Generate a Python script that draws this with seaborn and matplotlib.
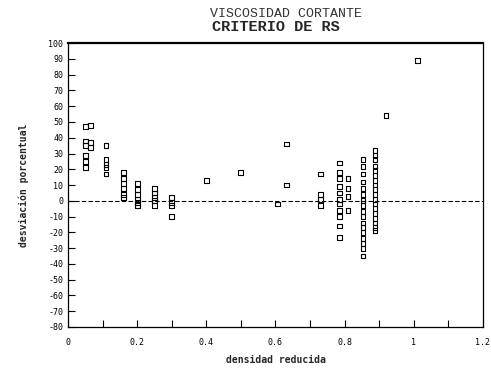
import matplotlib
matplotlib.use("Agg")
import matplotlib.pyplot as plt
import seaborn as sns
import pandas as pd
import numpy as np

# ---- data ----
dens_005 = [0.05] * 6
dev_005 = [47, 38, 35, 29, 25, 21]
dens_006 = [0.065] * 3
dev_006 = [48, 37, 34]
dens_011 = [0.11] * 5
dev_011 = [35, 26, 23, 21, 17]
dens_016 = [0.16] * 6
dev_016 = [18, 14, 11, 8, 4, 2]
dens_020 = [0.20] * 6
dev_020 = [11, 7, 4, 1, -1, -3]
dens_025 = [0.25] * 5
dev_025 = [8, 5, 2, 0, -3]
dens_030 = [0.30] * 4
dev_030 = [2, -1, -3, -10]
dens_mid = [0.40, 0.50, 0.605, 0.633, 0.633]
dev_mid = [13, 18, -2, 36, 10]
dens_073 = [0.73] * 4
dev_073 = [17, 4, 1, -3]
dens_078 = [0.785] * 11
dev_078 = [24, 18, 14, 9, 5, 1, -2, -6, -10, -16, -23]
dens_081 = [0.81] * 4
dev_081 = [14, 8, 3, -6]
dens_085 = [0.853] * 17
dev_085 = [26, 22, 17, 12, 8, 4, 0, -3, -7, -10, -14, -17, -20, -24, -27, -30, -35]
dens_089 = [0.888] * 18
dev_089 = [32, 29, 26, 22, 19, 16, 13, 10, 7, 4, 1, -2, -5, -8, -11, -14, -17, -19]
dens_high = [0.92, 1.01]
dev_high = [54, 89]

x_ticks = [0, 0.2, 0.4, 0.6, 0.8, 1.0, 1.2]
x_tick_labels = ["0", "0.2", "0.4", "0.6", "0.8", "1", "1.2"]
y_ticks = list(range(-80, 101, 10))
y_tick_labels = [str(v) for v in y_ticks]

densidad = (dens_005 + dens_006 + dens_011 + dens_016 + dens_020 + dens_025 + dens_030
            + dens_mid + dens_073 + dens_078 + dens_081 + dens_085 + dens_089 + dens_high)
desviacion = (dev_005 + dev_006 + dev_011 + dev_016 + dev_020 + dev_025 + dev_030
              + dev_mid + dev_073 + dev_078 + dev_081 + dev_085 + dev_089 + dev_high)
df = pd.DataFrame({"densidad": densidad, "desviacion": desviacion})

sns.set_style("ticks")
plt.rcParams['font.family'] = ['DejaVu Sans Mono', 'DejaVu Sans']

fig = plt.figure(figsize=(4.91, 3.72), dpi=100)
ax = fig.add_axes([0.1385, 0.121, 0.845, 0.763])

ax.axhline(0, color="black", lw=0.8, ls=(0, (4, 2)), zorder=1)
sns.scatterplot(data=df, x="densidad", y="desviacion", ax=ax, marker="s", s=12,
                facecolors="none", edgecolor="black", linewidth=0.8, zorder=3)

ax.set_xlim(0, 1.2)
ax.set_ylim(-80, 100)
ax.set_xticks(x_ticks)
ax.set_xticklabels(x_tick_labels, fontsize=6)
ax.set_xticks(np.arange(0.1, 1.2, 0.2), minor=True)
ax.set_yticks(y_ticks)
ax.set_yticklabels(y_tick_labels, fontsize=6)
ax.tick_params(axis="both", which="both", direction="in", length=5, width=0.8, colors="black")
ax.tick_params(axis="x", pad=8)
for s in ax.spines.values():
    s.set_color("black")
    s.set_linewidth(0.9)
ax.spines["top"].set_linewidth(1.6)

ax.set_xlabel("densidad reducida", fontsize=7, fontweight="bold", labelpad=6)
ax.set_ylabel("desviación porcentual", fontsize=7, fontweight="bold", labelpad=14)

fig.text(0.582, 0.962, "VISCOSIDAD CORTANTE", ha="center", va="center",
         fontsize=9.5, family="Liberation Mono", color="#333333")
fig.text(0.562, 0.928, "CRITERIO DE RS", ha="center", va="center",
         fontsize=11, fontweight="bold", family="Liberation Mono")

fig.savefig("out.png", dpi=100)
